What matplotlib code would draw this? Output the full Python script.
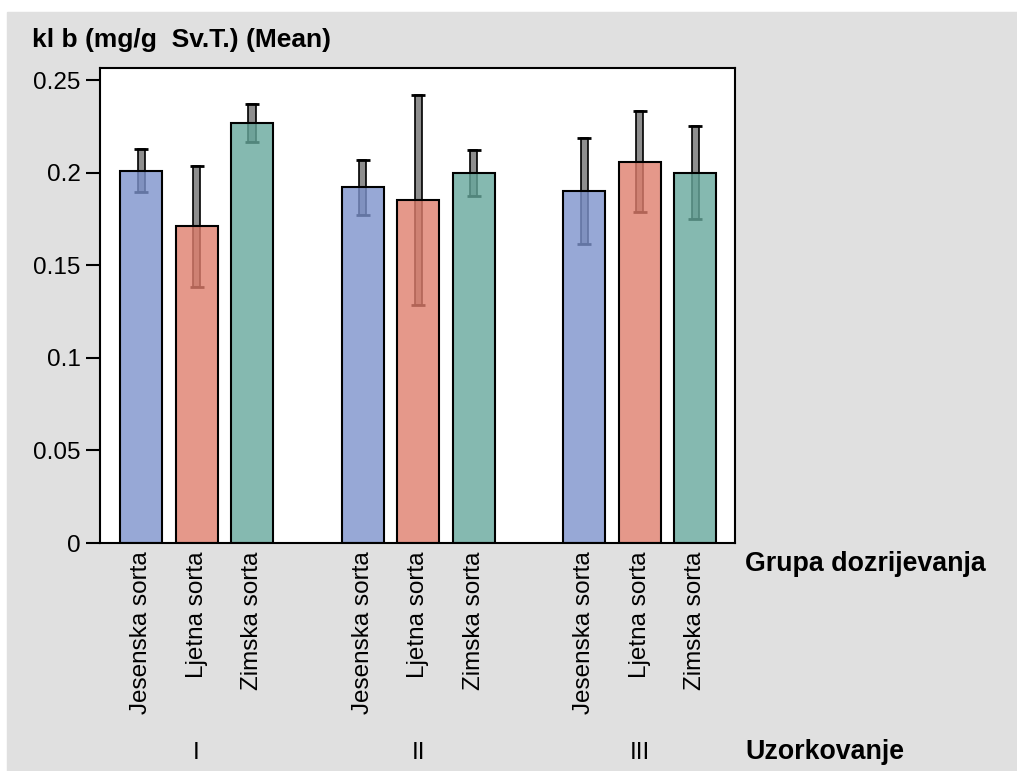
import matplotlib.pyplot as plt
import matplotlib.transforms as mtransforms
from matplotlib.patches import Rectangle

import numpy as np

# Podaci ocitani s grafikona
sorte = ['Jesenska sorta', 'Ljetna sorta', 'Zimska sorta']
uzorkovanja = ['I', 'II', 'III']
boje = ['#97a9d6', '#e5988a', '#85b9b0']

# srednje vrijednosti po uzorkovanju (redovi) i sorti (stupci)
mean = np.array([[0.201, 0.171, 0.227],
                 [0.192, 0.185, 0.200],
                 [0.190, 0.206, 0.200]])
# polovina raspona error bara
err = np.array([[0.0115, 0.0325, 0.0103],
                [0.0150, 0.0567, 0.0124],
                [0.0285, 0.0275, 0.0253]])

yticks = [0, 0.05, 0.1, 0.15, 0.2, 0.25]
ytick_labels = ['0', '0.05', '0.1', '0.15', '0.2', '0.25']

plt.rcParams['font.family'] = ['Liberation Sans', 'DejaVu Sans']

ALPHA = 0.8


def face(hex_color):
    # boja s prozirnoscu koja na bijeloj podlozi daje zadanu boju
    rgb = np.array([int(hex_color[i:i + 2], 16) for i in (1, 3, 5)]) / 255.
    c = (rgb - (1 - ALPHA)) / ALPHA
    return tuple(np.clip(c, 0, 1)) + (ALPHA,)


fig = plt.figure(figsize=(10.17, 7.71), dpi=100)
fig.patches.append(Rectangle((7 / 1017, 0), 1, 1 - 12 / 771,
                             transform=fig.transFigure, color='#e0e0e0',
                             zorder=-10))

ax = fig.add_axes([0.0983, 0.2957, 0.6244, 0.9118 - 0.2957])

positions = []
labels = []
for g in range(len(uzorkovanja)):
    for i in range(len(sorte)):
        x = g * 4 + i
        positions.append(x)
        labels.append(sorte[i])
        m, e = mean[g, i], err[g, i]
        ax.bar(x, 2 * e, bottom=m - e, width=0.13, color='#8e8e8e',
               edgecolor='black', linewidth=1.2, zorder=1)
        ax.errorbar(x, m, yerr=e, fmt='none', ecolor='black', elinewidth=0,
                    capsize=5, capthick=2, zorder=1)
        ax.bar(x, m, width=0.76, facecolor=face(boje[i]), edgecolor='black',
               linewidth=1.5, zorder=2)

ax.set_xlim(-0.745, 10.72)
ax.set_ylim(0, 0.2565)
ax.set_yticks(yticks)
ax.set_yticklabels(ytick_labels)
ax.set_xticks(positions)
ax.set_xticklabels(labels, rotation=90, va='top')
ax.tick_params(axis='y', labelsize=17.5, length=10, width=1.5, pad=4)
ax.tick_params(axis='x', labelsize=17.5, length=0, pad=6)
for s in ax.spines.values():
    s.set_linewidth(1.5)

trans = mtransforms.blended_transform_factory(ax.transData, fig.transFigure)
for g, naziv in enumerate(uzorkovanja):
    ax.text(g * 4 + 1, 0.0156, naziv, transform=trans, ha='center',
            va='baseline', fontsize=17.5)

fig.text(0.0315, 0.939, 'kl b (mg/g  Sv.T.) (Mean)', fontsize=19,
         fontweight='bold', va='baseline')
fig.text(745 / 1017, 0.2594, 'Grupa dozrijevanja', fontsize=19.3,
         fontweight='bold', va='baseline')
fig.text(745 / 1017, 0.0156, 'Uzorkovanje', fontsize=19.3,
         fontweight='bold', va='baseline')

plt.savefig('out.png', dpi=100)
